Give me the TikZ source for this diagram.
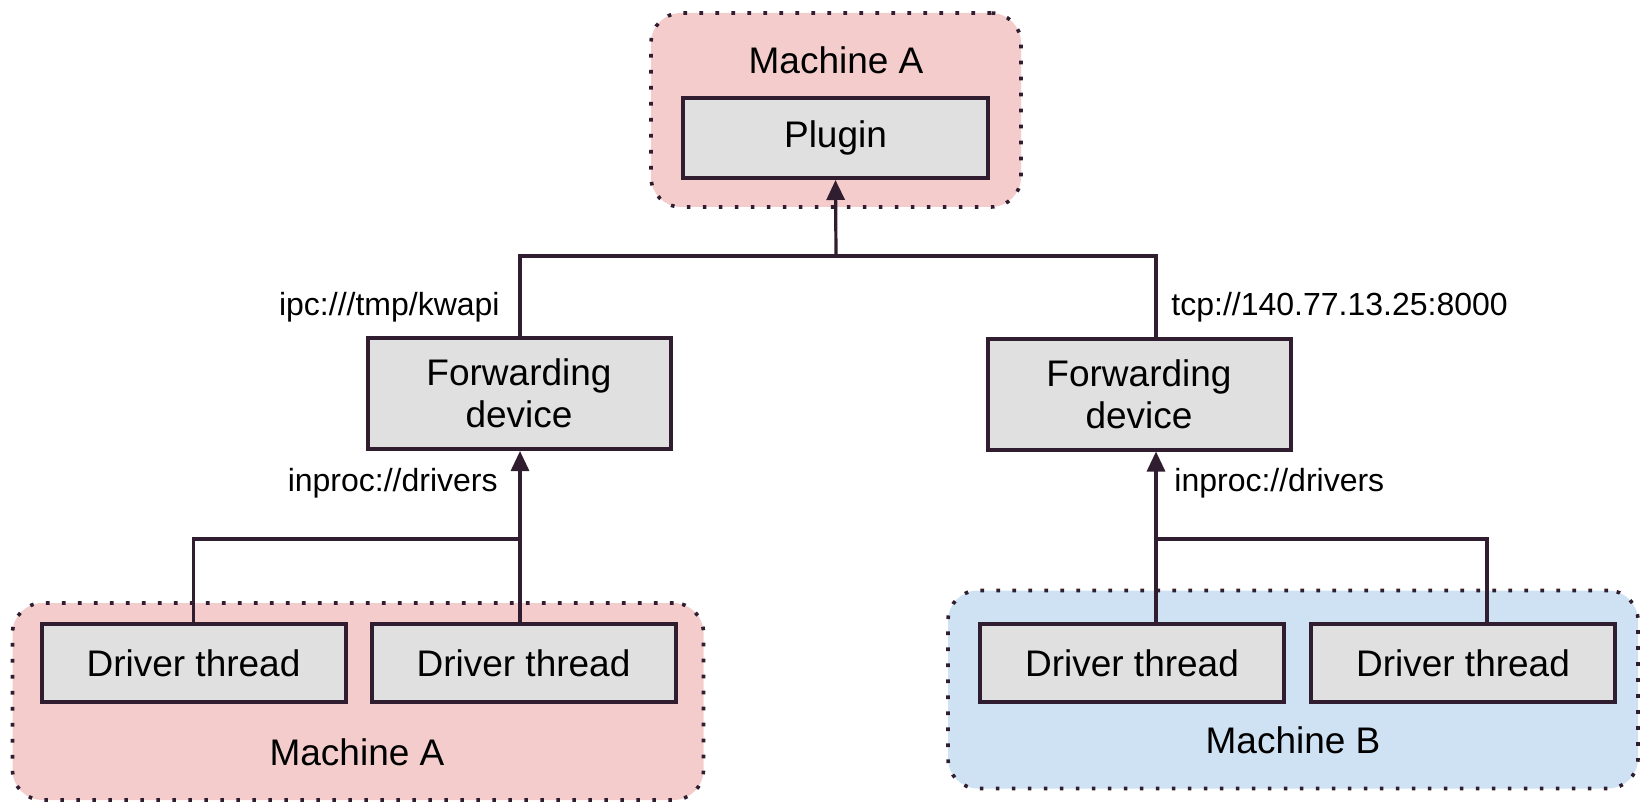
\documentclass[tikz,border=0pt]{standalone}
\usepackage{fontspec}
\setmainfont{Liberation Sans}
\usetikzlibrary{arrows.meta,positioning,calc}
\definecolor{MachinePink}{RGB}{244,204,204}
\definecolor{MachineBlue}{RGB}{207,226,243}
\definecolor{BoxGray}{RGB}{224,224,224}
\definecolor{LineDark}{RGB}{48,30,48}
\tikzset{
  machine/.style={draw=LineDark,line width=1.8pt,
    dash pattern=on 1.8pt off 6.2pt,rounded corners=15pt},
  compbox/.style={draw=LineDark,line width=2pt,fill=BoxGray,align=center,
    inner sep=0pt,font=\fontsize{18.5}{21}\selectfont},
  machinelabel/.style={font=\fontsize{18.5}{21}\selectfont},
  addrlabel/.style={inner sep=0pt,font=\fontsize{16}{19}\selectfont},
  link/.style={line width=1.6pt,draw=LineDark},
  linkarrow/.style={link,-{Triangle[length=10pt,width=9pt]}},
}

\begin{document}
\begin{tikzpicture}[x=0.5pt,y=-0.5pt]
  \useasboundingbox (0,0) rectangle (1642,802);
  % machines
  \node[machine,fill=MachinePink,minimum width=185pt,minimum height=97pt] (topmachine) at (836,110) {};
  \node[machine,fill=MachinePink,minimum width=345.5pt,minimum height=98.5pt] (machineA) at (358,701.5) {};
  \node[machine,fill=MachineBlue,minimum width=345pt,minimum height=99pt] (machineB) at (1293,689.5) {};
  \node[machinelabel] (topmachinelbl) at (836,60) {Machine A};
  \node[machinelabel] (machineAlbl) at (357,752) {Machine A};
  \node[machinelabel] (machineBlbl) at (1293,740) {Machine B};

  \node[compbox,minimum width=152.5pt,minimum height=40pt] (plugin) at (835.5,138) {Plugin};
  \node[compbox,minimum width=151.5pt,minimum height=55.5pt] (fwdA) at (519,393.5) {Forwarding\\device};
  \node[compbox,minimum width=151.5pt,minimum height=55.5pt] (fwdB) at (1139,394) {Forwarding\\device};

  \node[compbox,minimum width=152pt,minimum height=39pt] (drvA1) at (193.5,663) {Driver thread};
  \node[compbox,minimum width=152pt,minimum height=39pt,right=11pt of drvA1] (drvA2) {Driver thread};
  \node[compbox,minimum width=152pt,minimum height=39pt] (drvB1) at (1132,663) {Driver thread};
  \node[compbox,minimum width=152pt,minimum height=39pt,right=11.5pt of drvB1] (drvB2) {Driver thread};

  \node[addrlabel,anchor=east] (ipcaddr) at (500,307) {ipc:///tmp/kwapi};
  \node[addrlabel,anchor=west] (tcpaddr) at (1171,307) {tcp://140.77.13.25:8000};
  \node[addrlabel,anchor=east] (inprocA) at (498,483) {inproc://drivers};
  \node[addrlabel,anchor=west] (inprocB) at (1174,483) {inproc://drivers};

  \coordinate (jtop) at (836,256);
  \coordinate (jA) at (520,539);
  \coordinate (jB) at (1156,539);

  \draw[link] (fwdA.north -| jA) |- (jtop) -| (fwdB.north -| jB);
  \draw[linkarrow] (jtop) -- (plugin.south);
  \draw[link] (drvA1.north) |- (jA);
  \draw[linkarrow] (drvA2.north -| jA) -- (fwdA.south -| jA);
  \draw[link] ([xshift=12pt]drvB2.north) |- (jB);
  \draw[linkarrow] (drvB1.north -| jB) -- (fwdB.south -| jB);
\end{tikzpicture}
\end{document}
